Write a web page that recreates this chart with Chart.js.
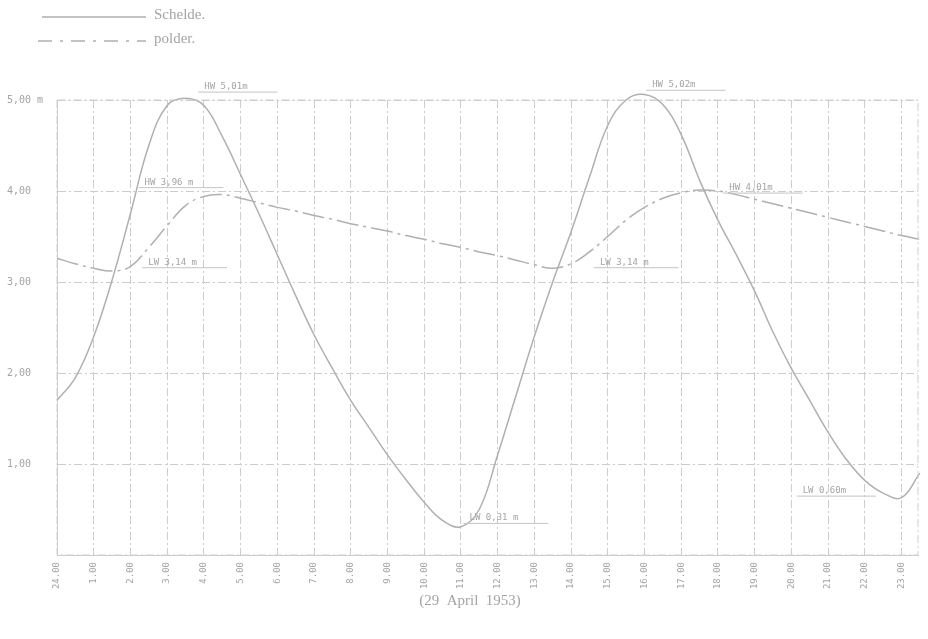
<!DOCTYPE html>
<html>
<head>
<meta charset="utf-8">
<script src="https://cdn.jsdelivr.net/npm/chart.js@4"></script>
<style>
  html, body { margin: 0; padding: 0; background: #fff; }
</style>
</head>
<body>
<canvas id="tideChart" width="928" height="639"></canvas>
<script>
// hours of the day (half-hour readings)
var hours = [0, 0.5, 1, 1.5, 2, 2.5, 3, 3.5, 4, 4.5, 5, 5.5, 6, 6.5, 7, 7.5, 8, 8.5, 9, 9.5,
  10, 10.5, 11, 11.5, 12, 12.5, 13, 13.5, 14, 14.5, 15, 15.5, 16, 16.5, 17, 17.5, 18, 18.5,
  19, 19.5, 20, 20.5, 21, 21.5, 22, 22.5, 23, 23.5]

// water level Schelde (m)
var schelde = [1.70, 1.95, 2.40, 3.02, 3.75, 4.50, 4.94, 5.02, 4.94, 4.60, 4.18, 3.75, 3.30, 2.85,
  2.42, 2.05, 1.70, 1.40, 1.10, 0.83, 0.58, 0.38, 0.31, 0.50, 1.10, 1.75, 2.40, 3.00, 3.55, 4.15,
  4.72, 5.00, 5.06, 4.95, 4.62, 4.12, 3.68, 3.30, 2.90, 2.45, 2.05, 1.70, 1.35, 1.05, 0.82, 0.68,
  0.63, 0.90]

// water level polder (m)
var polder = [3.26, 3.20, 3.15, 3.12, 3.17, 3.38, 3.62, 3.84, 3.94, 3.96, 3.92, 3.87, 3.82, 3.78,
  3.73, 3.69, 3.64, 3.60, 3.56, 3.51, 3.47, 3.42, 3.38, 3.33, 3.29, 3.24, 3.19, 3.15, 3.20, 3.33,
  3.50, 3.68, 3.82, 3.92, 3.98, 4.01, 4.00, 3.96, 3.91, 3.86, 3.81, 3.76, 3.71, 3.66, 3.61, 3.56,
  3.51, 3.47]

// tick labels
var hourLabels = ['24.00', '1.00', '2.00', '3.00', '4.00', '5.00', '6.00', '7.00', '8.00', '9.00',
  '10.00', '11.00', '12.00', '13.00', '14.00', '15.00', '16.00', '17.00', '18.00', '19.00',
  '20.00', '21.00', '22.00', '23.00']
var levelLabels = ['', '1,00', '2,00', '3,00', '4,00', '5,00 m']

// high / low water notes: text, hour, level
var noteText = ['HW 5,01m', 'HW 3,96 m', 'LW 3,14 m', 'LW 0,31 m', 'LW 3,14 m', 'HW 5,02m', 'HW 4,01m', 'LW 0,60m']
var noteHour = [4.6, 3.05, 3.15, 11.9, 15.45, 16.8, 18.9, 20.9]
var noteLevel = [5.12, 4.07, 3.19, 0.38, 3.19, 5.14, 4.01, 0.68]

var grey = '#b0b0b0'
var textGrey = '#a4a4a4'

function toPoints (ys) {
  return ys.map(function (v, i) { return { x: hours[i], y: v } })
}

// legend, notes, frame and caption
var extras = {
  id: 'extras',
  afterDraw: function (chart) {
    var ctx = chart.ctx
    var xs = chart.scales.x
    var ys = chart.scales.y
    var area = chart.chartArea
    ctx.save()

    // frame
    ctx.strokeStyle = '#cfcfcf'
    ctx.lineWidth = 1
    ctx.setLineDash([8, 3, 2, 3])
    ctx.strokeRect(area.left, area.top, area.right - area.left, area.bottom - area.top)

    // legend
    ctx.setLineDash([])
    ctx.strokeStyle = grey
    ctx.lineWidth = 1.3
    ctx.beginPath(); ctx.moveTo(42, 17); ctx.lineTo(146, 17); ctx.stroke()
    ctx.setLineDash([14, 8, 3, 8])
    ctx.beginPath(); ctx.moveTo(38, 41); ctx.lineTo(146, 41); ctx.stroke()
    ctx.setLineDash([])
    ctx.fillStyle = textGrey
    ctx.font = '15px "Liberation Serif"'
    ctx.textBaseline = 'alphabetic'
    ctx.textAlign = 'left'
    ctx.fillText('Schelde.', 154, 19)
    ctx.fillText('polder.', 154, 43)

    // caption
    ctx.textAlign = 'center'
    ctx.fillText('(29  April  1953)', 470, 605)

    // notes
    ctx.font = '9px "DejaVu Sans Mono"'
    ctx.lineWidth = 1
    ctx.strokeStyle = '#c4c4c4'
    for (var i = 0; i < noteText.length; i++) {
      var px = xs.getPixelForValue(noteHour[i])
      var py = ys.getPixelForValue(noteLevel[i])
      var w = ctx.measureText(noteText[i]).width
      ctx.fillText(noteText[i], px, py)
      ctx.beginPath()
      ctx.moveTo(px - w / 2 - 6, py + 3)
      ctx.lineTo(px + w / 2 + 30, py + 3)
      ctx.stroke()
    }
    ctx.restore()
  }
}

var ctx = document.getElementById('tideChart').getContext('2d')

var tideChart = new Chart(ctx, {
  type: 'line',
  data: {
    datasets: [
      {
        label: 'Schelde.',
        data: toPoints(schelde),
        borderColor: grey,
        borderWidth: 1.5,
        pointRadius: 0,
        tension: 0.4,
        clip: 12
      },
      {
        label: 'polder.',
        data: toPoints(polder),
        borderColor: grey,
        borderWidth: 1.5,
        borderDash: [22, 5, 3, 5],
        pointRadius: 0,
        tension: 0.4,
        clip: 12
      }
    ]
  },
  options: {
    responsive: false,
    animation: false,
    layout: { padding: { top: 100, right: 10, left: 7, bottom: 0 } },
    plugins: {
      legend: { display: false },
      tooltip: { enabled: false }
    },
    scales: {
      x: {
        type: 'linear',
        min: 0,
        max: 23.45,
        afterFit: function (s) { s.height = 84 },
        grid: { color: '#cccccc', drawTicks: false },
        border: { color: '#cccccc', dash: [8, 3, 2, 3] },
        ticks: {
          stepSize: 1,
          includeBounds: false,
          autoSkip: false,
          minRotation: 90,
          maxRotation: 90,
          padding: 7,
          color: textGrey,
          font: { family: 'DejaVu Sans Mono', size: 9 },
          callback: function (v) { return hourLabels[v] }
        }
      },
      y: {
        min: 0,
        max: 5,
        afterFit: function (s) { s.width = 50 },
        grid: { color: '#cccccc', drawTicks: false },
        border: { color: '#cccccc', dash: [8, 3, 2, 3] },
        ticks: {
          stepSize: 1,
          crossAlign: 'far',
          padding: 6,
          color: textGrey,
          font: { family: 'DejaVu Sans Mono', size: 10 },
          callback: function (v) { return levelLabels[v] }
        }
      }
    }
  },
  plugins: [extras]
})
</script>
</body>
</html>
